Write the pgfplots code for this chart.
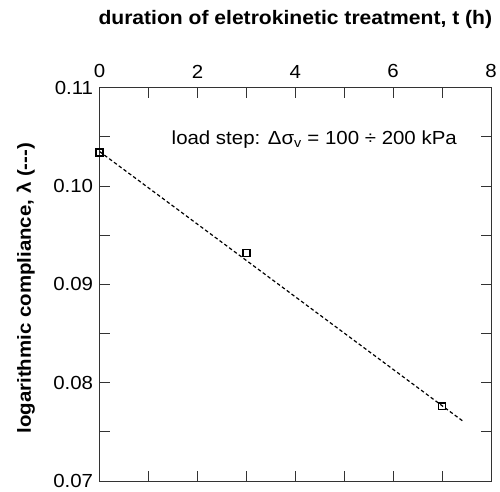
\documentclass[border=0pt]{standalone}
\usepackage{fontspec}
\setmainfont[FakeStretch=1.08]{Liberation Sans}
\usepackage{pgfplots}
\pgfplotsset{compat=1.18}
\begin{document}
\begin{tikzpicture}
\begin{axis}[
  name=ax,
  scale only axis,
  width=393pt, height=395pt,
  xmin=0, xmax=8, ymin=0.07, ymax=0.11,
  xtick={0,2,4,6,8}, minor xtick={1,3,5,7},
  ytick={0.07,0.08,0.09,0.10,0.11}, minor ytick={0.075,0.085,0.095,0.105},
  tick align=inside,
  major tick length=10pt, minor tick length=10pt,
  xtick pos=both, ytick pos=both,
  xticklabel pos=upper, yticklabel pos=left,
  axis line style={black!80, line width=0.9pt},
  every tick/.style={black!80, line width=0.9pt},
  /pgf/number format/assume math mode=true,
  font=\fontsize{19}{23}\selectfont,
  yticklabel style={/pgf/number format/fixed, /pgf/number format/fixed zerofill, /pgf/number format/precision=2, xshift=-3pt},
  xticklabel style={yshift=6pt},
  scaled y ticks=false,
  xlabel={\bfseries duration of eletrokinetic treatment, t (h)},
  xlabel style={at={(axis description cs:0.5,1)}, anchor=base, yshift=63pt, font=\fontsize{19.6}{23}\selectfont},
  ylabel={\bfseries logarithmic compliance, λ (-{}-{}-)},
  ylabel style={at={([xshift=-69pt]axis description cs:0,0.49)}, anchor=base},
  clip=false,
]
\addplot[black, line width=1.2pt, dash pattern=on 3.5pt off 2.5pt] coordinates {(0,0.1035) (7.45,0.0760)};
\addplot[only marks, mark=square, mark size=3.5pt, mark options={black, line width=1.4pt, fill=white}] coordinates {(0,0.1034) (3,0.0932) (7,0.0776)};
\node[anchor=base west, inner sep=0pt, font=\fontsize{19}{23}\selectfont] at (axis cs:1.47,0.1042) {load step: Δσ\textsubscript{v} = 100 ÷ 200 kPa};
\end{axis}
\path ([xshift=-100pt,yshift=-10pt]ax.south west) rectangle ([xshift=7pt,yshift=88pt]ax.north east);
\end{tikzpicture}
\end{document}
